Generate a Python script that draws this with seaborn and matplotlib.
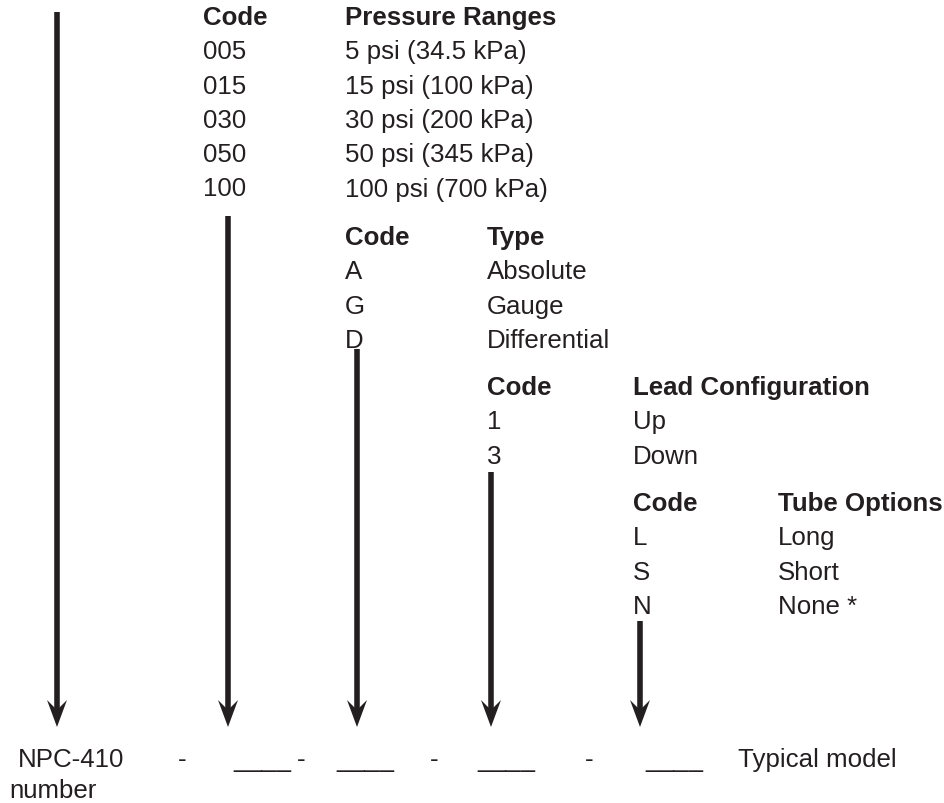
import matplotlib
matplotlib.use('Agg')
import matplotlib.pyplot as plt
import seaborn as sns
from matplotlib.patches import Polygon

sns.set_theme(style='white')
plt.rcParams['font.family'] = ['Liberation Sans', 'DejaVu Sans']

# Tabelas de códigos
pressao_codigos = ['005', '015', '030', '050', '100']
pressao_faixas = ['5 psi (34.5 kPa)', '15 psi (100 kPa)', '30 psi (200 kPa)',
                  '50 psi (345 kPa)', '100 psi (700 kPa)']
tipo_codigos = ['A', 'G', 'D']
tipo_nomes = ['Absolute', 'Gauge', 'Differential']
lead_codigos = ['1', '3']
lead_nomes = ['Up', 'Down']
tubo_codigos = ['L', 'S', 'N']
tubo_nomes = ['Long', 'Short', 'None *']

titulos = ['Pressure Ranges', 'Type', 'Lead Configuration', 'Tube Options']
blocos = [(pressao_codigos, pressao_faixas), (tipo_codigos, tipo_nomes),
          (lead_codigos, lead_nomes), (tubo_codigos, tubo_nomes)]

# Layout (pixels)
col_codigo = [203, 345, 487, 633]
col_nome = [345, 487, 633, 778]
y_titulo = [18, 238, 388, 504]
passo = 34.3

seta_x = [57, 228, 357, 491, 640]
seta_inicio = [13, 217, 350, 473, 622]
seta_fim = 728

cor = '#231f20'
fs = 18.6

fig = plt.figure(figsize=(9.44, 8.04), dpi=100)
ax = fig.add_axes([0, 0, 1, 1])
ax.set_xlim(0, 944)
ax.set_ylim(804, 0)
ax.axis('off')

# Tabelas
for i, (cods, nomes) in enumerate(blocos):
    ax.text(col_codigo[i], y_titulo[i], 'Code', fontsize=fs, fontweight='bold',
            color=cor, va='center', ha='left')
    ax.text(col_nome[i], y_titulo[i], titulos[i], fontsize=fs, fontweight='bold',
            color=cor, va='center', ha='left')
    for j, (c, n) in enumerate(zip(cods, nomes)):
        y = y_titulo[i] + passo * (j + 1)
        ax.text(col_codigo[i], y, c, fontsize=fs, color=cor, va='center', ha='left')
        ax.text(col_nome[i], y, n, fontsize=fs, color=cor, va='center', ha='left')

# Setas
for x, y0 in zip(seta_x, seta_inicio):
    ax.plot([x, x], [y0, seta_fim - 15], color=cor, lw=4.0, solid_capstyle='butt')
    ponta = Polygon([(x, seta_fim), (x - 10, seta_fim - 27), (x, seta_fim - 17),
                     (x + 10, seta_fim - 27)], closed=True, color=cor, lw=0)
    ax.add_patch(ponta)

# Linha do modelo
y_mod = 760
linha = [(18, 'NPC-410'), (178, '-'), (233, '____'), (297, '-'), (336, '____'),
         (430, '-'), (477, '____'), (585, '-'), (645, '____'), (738, 'Typical model')]
for x, s in linha:
    ax.text(x, y_mod, s, fontsize=fs, color=cor, va='center', ha='left')
ax.text(9, 791, 'number', fontsize=fs, color=cor, va='center', ha='left')

fig.savefig('out.png', dpi=100)
